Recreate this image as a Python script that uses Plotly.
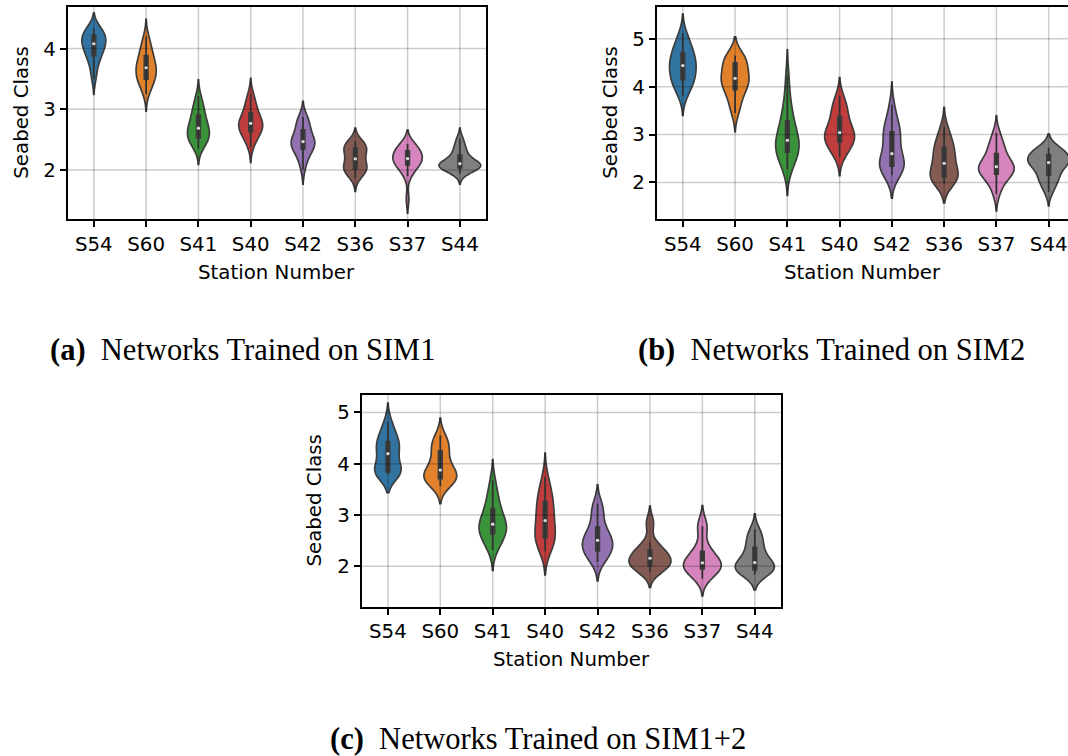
import numpy as np
import plotly.graph_objects as go

# ---------------- data ----------------
stations = ["S54", "S60", "S41", "S40", "S42", "S36", "S37", "S44"]
palette = ["#3274a1", "#e1812c", "#3a923a", "#c03d3e", "#9372b2", "#845b53", "#d684bd", "#7f7f7f"]
edge = "#3d3d3d"

# (a) networks trained on SIM1 - predicted seabed class per station
sim1_s54 = [3.50, 3.62, 3.75, 3.83, 3.87, 3.90, 3.95, 4.00, 4.04, 4.07, 4.09, 4.11, 4.13, 4.15, 4.20, 4.24, 4.27, 4.29, 4.31, 4.33]
sim1_s60 = [3.25, 3.35, 3.42, 3.47, 3.49, 3.51, 3.56, 3.60, 3.64, 3.67, 3.70, 3.72, 3.76, 3.80, 3.87, 3.90, 3.96, 4.03, 4.10, 4.20]
sim1_s41 = [2.36, 2.42, 2.47, 2.50, 2.52, 2.54, 2.57, 2.61, 2.64, 2.67, 2.71, 2.74, 2.77, 2.81, 2.88, 2.93, 2.98, 3.04, 3.12, 3.22]
sim1_s40 = [2.38, 2.48, 2.55, 2.59, 2.62, 2.65, 2.68, 2.71, 2.74, 2.76, 2.78, 2.80, 2.83, 2.87, 2.92, 2.97, 3.03, 3.09, 3.16, 3.26]
sim1_s42 = [2.02, 2.14, 2.23, 2.29, 2.33, 2.36, 2.39, 2.42, 2.44, 2.46, 2.48, 2.50, 2.53, 2.57, 2.63, 2.69, 2.74, 2.79, 2.84, 2.88]
sim1_s36 = [1.86, 1.93, 1.97, 1.99, 2.01, 2.03, 2.05, 2.08, 2.12, 2.16, 2.21, 2.25, 2.29, 2.32, 2.35, 2.38, 2.40, 2.42, 2.45, 2.48]
sim1_s37 = [1.52, 1.90, 1.98, 2.03, 2.07, 2.10, 2.12, 2.14, 2.16, 2.18, 2.20, 2.22, 2.24, 2.27, 2.30, 2.33, 2.36, 2.38, 2.41, 2.43]
sim1_s44 = [1.94, 1.99, 2.02, 2.03, 2.03, 2.04, 2.06, 2.08, 2.09, 2.10, 2.11, 2.12, 2.13, 2.15, 2.22, 2.27, 2.31, 2.36, 2.44, 2.52]

# (b) networks trained on SIM2
sim2_s54 = [3.80, 3.92, 4.02, 4.08, 4.13, 4.17, 4.23, 4.30, 4.36, 4.42, 4.46, 4.50, 4.55, 4.60, 4.68, 4.74, 4.80, 4.88, 4.98, 5.12]
sim2_s60 = [3.45, 3.58, 3.70, 3.82, 3.92, 3.96, 4.02, 4.08, 4.12, 4.16, 4.19, 4.23, 4.28, 4.35, 4.47, 4.52, 4.56, 4.59, 4.62, 4.65]
sim2_s41 = [2.28, 2.40, 2.50, 2.57, 2.62, 2.65, 2.70, 2.76, 2.82, 2.86, 2.90, 2.95, 3.02, 3.12, 3.24, 3.32, 3.45, 3.60, 3.85, 4.22]
sim2_s40 = [2.53, 2.64, 2.72, 2.78, 2.83, 2.86, 2.90, 2.95, 2.99, 3.02, 3.06, 3.10, 3.16, 3.24, 3.34, 3.42, 3.50, 3.58, 3.68, 3.80]
sim2_s42 = [2.15, 2.22, 2.28, 2.31, 2.33, 2.35, 2.38, 2.42, 2.47, 2.55, 2.65, 2.78, 2.90, 2.97, 3.03, 3.08, 3.14, 3.25, 3.40, 3.62]
sim2_s36 = [1.97, 2.02, 2.06, 2.08, 2.10, 2.12, 2.16, 2.22, 2.28, 2.36, 2.44, 2.50, 2.56, 2.62, 2.70, 2.76, 2.82, 2.90, 3.02, 3.17]
sim2_s37 = [1.76, 1.92, 2.04, 2.12, 2.16, 2.19, 2.24, 2.27, 2.30, 2.32, 2.34, 2.36, 2.39, 2.44, 2.56, 2.64, 2.70, 2.78, 2.88, 3.04]
sim2_s44 = [1.80, 1.93, 2.02, 2.09, 2.14, 2.18, 2.30, 2.37, 2.40, 2.41, 2.42, 2.44, 2.47, 2.50, 2.56, 2.60, 2.63, 2.66, 2.69, 2.72]

# (c) networks trained on SIM1+2
sim12_s54 = [3.80, 3.81, 3.82, 3.83, 3.83, 3.85, 3.88, 3.94, 4.05, 4.15, 4.24, 4.28, 4.31, 4.35, 4.40, 4.46, 4.52, 4.60, 4.70, 4.82]
sim12_s60 = [3.56, 3.62, 3.66, 3.68, 3.70, 3.72, 3.75, 3.78, 3.81, 3.85, 3.90, 3.95, 4.02, 4.10, 4.22, 4.28, 4.34, 4.40, 4.47, 4.55]
sim12_s41 = [2.32, 2.41, 2.49, 2.56, 2.61, 2.65, 2.69, 2.73, 2.77, 2.80, 2.84, 2.88, 2.93, 3.00, 3.09, 3.16, 3.25, 3.36, 3.50, 3.68]
sim12_s40 = [2.30, 2.38, 2.44, 2.49, 2.53, 2.58, 2.64, 2.70, 2.77, 2.85, 2.93, 3.01, 3.08, 3.15, 3.22, 3.30, 3.38, 3.47, 3.58, 3.74]
sim12_s42 = [2.08, 2.15, 2.21, 2.25, 2.28, 2.32, 2.37, 2.41, 2.45, 2.49, 2.52, 2.55, 2.59, 2.64, 2.72, 2.80, 2.95, 3.08, 3.14, 3.22]
sim12_s36 = [1.88, 1.93, 1.96, 1.98, 2.00, 2.02, 2.05, 2.08, 2.11, 2.14, 2.17, 2.20, 2.23, 2.26, 2.30, 2.34, 2.39, 2.47, 2.80, 2.88]
sim12_s37 = [1.76, 1.83, 1.88, 1.92, 1.94, 1.96, 1.98, 2.00, 2.03, 2.05, 2.08, 2.11, 2.15, 2.20, 2.26, 2.32, 2.40, 2.70, 2.78, 2.84]
sim12_s44 = [1.84, 1.87, 1.89, 1.91, 1.92, 1.94, 1.97, 2.00, 2.03, 2.06, 2.08, 2.12, 2.18, 2.26, 2.33, 2.40, 2.48, 2.56, 2.64, 2.72]

yticks_a = [2, 3, 4]
yticks_b = [2, 3, 4, 5]
yticks_c = [2, 3, 4, 5]

# ---------------- layout helpers ----------------
W, H = 1068, 756
TICK_FONT = dict(family="DejaVu Sans", size=19.8, color="black")
CAP_FONT = dict(family="Liberation Serif", size=30.5, color="black")

panels = [
    dict(n="", data=[sim1_s54, sim1_s60, sim1_s41, sim1_s40, sim1_s42, sim1_s36, sim1_s37, sim1_s44],
         px=(67.7, 486.0), py=(6.7, 219.3), yrange=[1.19, 4.69], yticks=yticks_a, xmax=7.5,
         right=True, cap="<b>(a)</b>\u00a0\u00a0Networks Trained on SIM1", cap_xy=(48, 350)),
    dict(n="2", data=[sim2_s54, sim2_s60, sim2_s41, sim2_s40, sim2_s42, sim2_s36, sim2_s37, sim2_s44],
         px=(656.7, 1068.0), py=(6.7, 219.3), yrange=[1.23, 5.67], yticks=yticks_b, xmax=7.37,
         right=False, cap="<b>(b)</b>\u00a0\u00a0Networks Trained on SIM2", cap_xy=(636, 350)),
    dict(n="3", data=[sim12_s54, sim12_s60, sim12_s41, sim12_s40, sim12_s42, sim12_s36, sim12_s37, sim12_s44],
         px=(361.7, 781.0), py=(395.0, 606.7), yrange=[1.21, 5.34], yticks=yticks_c, xmax=7.5,
         right=True, cap="<b>(c)</b>\u00a0\u00a0Networks Trained on SIM1+2", cap_xy=(328, 739)),
]

fig = go.Figure()
layout = dict(width=W, height=H, margin=dict(l=0, r=0, t=0, b=0),
              paper_bgcolor="white", plot_bgcolor="white",
              violinmode="overlay", violingap=0.2, violingroupgap=0,
              showlegend=False)
shapes, annotations = [], []
grid_line = dict(color="rgba(0,0,0,0.2)", width=1.5)

for p in panels:
    xa, ya = "x" + p["n"], "y" + p["n"]
    for st, col, vals in zip(stations, palette, p["data"]):
        v = np.asarray(vals)
        bw = np.std(v, ddof=1) * len(v) ** (-0.2)  # Scott's rule
        fig.add_trace(go.Violin(
            x=[st] * len(v), y=v, xaxis=xa, yaxis=ya, name=st,
            fillcolor=col, opacity=1,
            line=dict(color=edge, width=1.7),
            points=False, spanmode="soft", bandwidth=bw,
            scalegroup="grp" + p["n"], scalemode="width",
            box=dict(visible=True, width=0.085, fillcolor=edge,
                     line=dict(color=edge, width=1.8)),
            meanline=dict(visible=False), hoverinfo="skip"))
    fig.add_trace(go.Scatter(
        x=stations, y=[float(np.median(v)) for v in p["data"]], xaxis=xa, yaxis=ya,
        mode="markers", marker=dict(color="white", size=3.2, line=dict(width=0)),
        hoverinfo="skip"))

    layout["xaxis" + p["n"]] = dict(
        domain=[p["px"][0] / W, p["px"][1] / W], anchor=ya,
        type="category", categoryorder="array", categoryarray=stations,
        range=[-0.5, p["xmax"]], showgrid=False, zeroline=False,
        showline=True, linecolor="black", linewidth=1.6, mirror=True,
        ticks="outside", ticklen=6, tickwidth=1.6, tickcolor="black",
        tickfont=TICK_FONT)
    layout["yaxis" + p["n"]] = dict(
        domain=[1 - p["py"][1] / H, 1 - p["py"][0] / H], anchor=xa,
        range=p["yrange"], tickvals=p["yticks"], showgrid=False, zeroline=False,
        showline=True, linecolor="black", linewidth=1.6, mirror=p["right"],
        ticks="outside", ticklen=6, tickwidth=1.6, tickcolor="black",
        tickfont=TICK_FONT)

    # grid lines drawn above the violins, as in the original
    for t in p["yticks"]:
        shapes.append(dict(type="line", xref=xa + " domain", x0=0, x1=1, yref=ya, y0=t, y1=t,
                           line=grid_line, layer="above"))
    for i, _ in enumerate(stations):
        shapes.append(dict(type="line", xref=xa, x0=i, x1=i, yref=ya + " domain", y0=0, y1=1,
                           line=grid_line, layer="above"))

    # axis titles
    annotations.append(dict(text="Station Number", xref=xa + " domain", yref=ya + " domain",
                            x=0.5, y=0, yshift=-53, xanchor="center", yanchor="middle",
                            showarrow=False, font=TICK_FONT))
    annotations.append(dict(text="Seabed Class", xref=xa + " domain", yref=ya + " domain",
                            x=0, y=0.5, xshift=-47, xanchor="center", yanchor="middle",
                            textangle=-90, showarrow=False, font=TICK_FONT))
    # sub-figure caption
    annotations.append(dict(text=p["cap"], xref="paper", yref="paper",
                            x=p["cap_xy"][0] / W, y=1 - p["cap_xy"][1] / H,
                            xanchor="left", yanchor="middle", showarrow=False, font=CAP_FONT))

layout["shapes"] = shapes
layout["annotations"] = annotations
fig.update_layout(**layout)
fig.write_html("out.html")
